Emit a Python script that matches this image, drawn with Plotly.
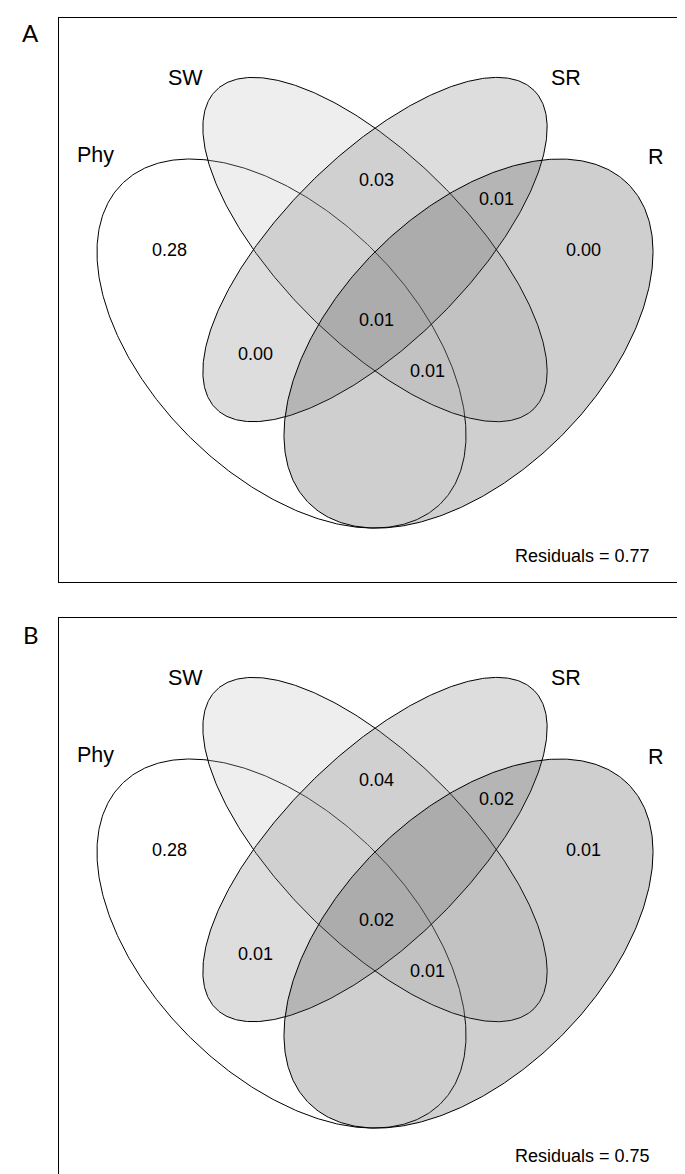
import numpy as np
import plotly.graph_objects as go

# ---------------- data ----------------
set_names = ["Phy", "SW", "SR", "R"]
region_names = ["Phy", "SW&SR", "SR&R", "R", "Phy&SW&SR&R", "Phy&SR", "Phy&SW&R"]
fractions_A = [0.28, 0.03, 0.01, 0.00, 0.01, 0.00, 0.01]
fractions_B = [0.28, 0.04, 0.02, 0.01, 0.02, 0.01, 0.01]
residuals = [0.77, 0.75]
panel_tags = ["A", "B"]

# ---------------- layout / geometry ----------------
W, H = 685, 1174
# ellipse geometry in diagram units (1 unit = 1 px), origin at box centre, y up
ell_cx = [-93.5, 0.0, 0.0, 93.5]
ell_cy = [-43.8, 50.2, 50.2, -43.8]
ell_a = [225.7, 225.0, 225.0, 225.7]
ell_b = [131.0, 93.0, 93.0, 131.0]
ell_ang = [-45.0, -45.0, 45.0, 45.0]
ell_fill = ["rgba(255,255,255,0.25)", "rgba(186,186,186,0.25)",
            "rgba(121,121,121,0.25)", "rgba(65,65,65,0.25)"]

set_lab_x = [-280.0, -190.0, 191.0, 281.0]
set_lab_y = [144.7, 221.7, 221.7, 142.7]
reg_x = [-206.0, 1.0, 121.0, 208.0, 1.0, -120.0, 52.0]
reg_y = [49.7, 119.7, 101.0, 49.7, -20.3, -54.3, -71.3]
resid_x, resid_y = 207.0, -256.6

box_left, box_right = 50.5, 683.5
panel_top = [9.5, 609.5]
tag_y = [24.0, 626.0]
panel_h = 564.5
xhalf = (box_right - box_left) / 2
yhalf = panel_h / 2

FONT = "Liberation Sans, Arial, sans-serif"

fig = go.Figure()
t = np.linspace(0, 2 * np.pi, 500)

for p, fr in enumerate([fractions_A, fractions_B]):
    xa = "x" if p == 0 else "x2"
    ya = "y" if p == 0 else "y2"
    for i in range(4):
        th = np.deg2rad(ell_ang[i])
        ex = ell_cx[i] + ell_a[i] * np.cos(t) * np.cos(th) - ell_b[i] * np.sin(t) * np.sin(th)
        ey = ell_cy[i] + ell_a[i] * np.cos(t) * np.sin(th) + ell_b[i] * np.sin(t) * np.cos(th)
        fig.add_trace(go.Scatter(x=ex, y=ey, mode="lines", fill="toself",
                                 fillcolor=ell_fill[i],
                                 line=dict(color="black", width=1),
                                 hoverinfo="skip", showlegend=False,
                                 xaxis=xa, yaxis=ya))
    for i, name in enumerate(set_names):
        fig.add_annotation(x=set_lab_x[i], y=set_lab_y[i], xref=xa, yref=ya,
                           text=name, showarrow=False,
                           xanchor="center", yanchor="middle",
                           font=dict(family=FONT, size=21.5, color="black"))
    for i, v in enumerate(fr):
        fig.add_annotation(x=reg_x[i], y=reg_y[i], xref=xa, yref=ya,
                           text=f"{v:.2f}", showarrow=False,
                           xanchor="center", yanchor="middle",
                           font=dict(family=FONT, size=18, color="black"))
    fig.add_annotation(x=resid_x, y=resid_y, xref=xa, yref=ya,
                       text=f"Residuals = {residuals[p]:.2f}", showarrow=False,
                       xanchor="center", yanchor="middle",
                       font=dict(family=FONT, size=18, color="black"))
    fig.add_annotation(x=22.5 / W, y=1 - tag_y[p] / H,
                       xref="paper", yref="paper", text=panel_tags[p],
                       showarrow=False, xanchor="center", yanchor="middle",
                       font=dict(family="Lato, Open Sans, sans-serif", size=24, color="black"))

axis_common = dict(showline=True, mirror=True, linecolor="black", linewidth=1,
                   showgrid=False, zeroline=False, showticklabels=False, ticks="",
                   fixedrange=True)
dom = []
for p in range(2):
    top = 1 - panel_top[p] / H
    bot = max(0.0, 1 - (panel_top[p] + panel_h) / H)
    dom.append([bot, top])

fig.update_layout(
    width=W, height=H,
    margin=dict(l=0, r=0, t=0, b=0),
    paper_bgcolor="white", plot_bgcolor="white",
    showlegend=False,
    xaxis=dict(domain=[box_left / W, box_right / W], range=[-xhalf, xhalf], **axis_common),
    yaxis=dict(domain=dom[0], range=[-yhalf, yhalf], **axis_common),
    xaxis2=dict(domain=[box_left / W, box_right / W], range=[-xhalf, xhalf], anchor="y2", **axis_common),
    yaxis2=dict(domain=dom[1], range=[-yhalf, yhalf], anchor="x2", **axis_common),
)

fig.write_html("out.html")
